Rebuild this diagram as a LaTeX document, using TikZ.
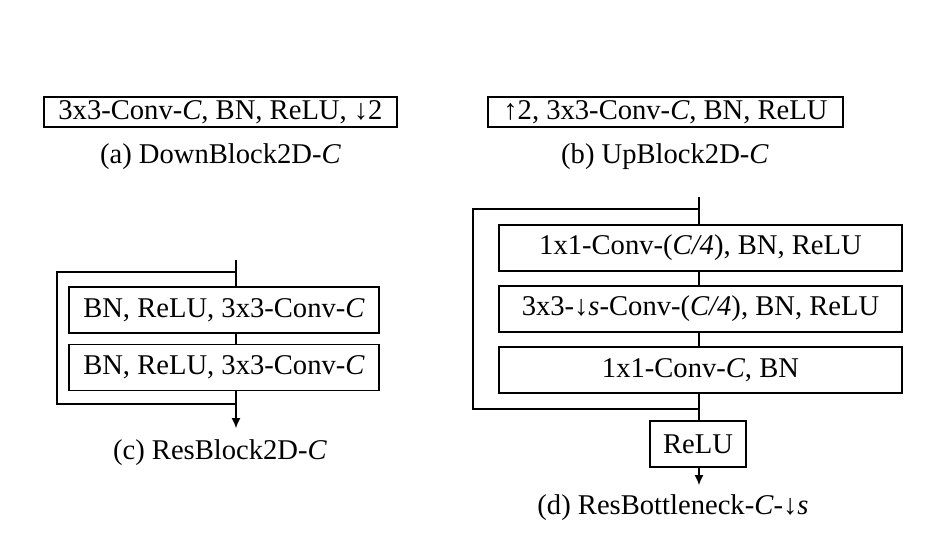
\documentclass[tikz,border=0pt]{standalone}
\usepackage{fontspec}
\setmainfont{Liberation Serif}
\usetikzlibrary{positioning,arrows.meta}
\tikzset{
  block/.style={draw, line width=0.6pt, inner sep=0pt, minimum height=23pt},
  caption/.style={inner sep=0pt},
  wire/.style={line width=0.6pt},
  flow/.style={line width=0.6pt, -{Latex[length=5pt,width=4.5pt]}}
}

\begin{document}
\begin{tikzpicture}[x=0.5pt, y=-0.5pt, font=\fontsize{14.3}{16}\selectfont]
    \useasboundingbox (0,0) rectangle (943,554);

    \node [block, minimum width=176.5pt, minimum height=15pt] (down) at (220.5,112) {3x3-Conv-\textit{C}, BN, ReLU, ↓2};
    \node [caption] (capa) at (220.5,157) {(a) DownBlock2D-\textit{C}};
    \node [block, minimum width=177.5pt, minimum height=15pt] (up) at (665.5,112) {↑2, 3x3-Conv-\textit{C}, BN, ReLU};
    \node [caption] (capb) at (665,157) {(b) UpBlock2D-\textit{C}};

    \coordinate (cin) at (236,260);
    \coordinate (csplit) at (236,272);
    \node [block, minimum width=155pt] (res1) at (224,310) {BN, ReLU, 3x3-Conv-\textit{C}};
    \node [block, minimum width=155pt] (res2) at (224,367.5) {BN, ReLU, 3x3-Conv-\textit{C}};
    \coordinate (cjoin) at (236,404);
    \coordinate (cout) at (236,428);
    \node [caption] (capc) at (220,453) {(c) ResBlock2D-\textit{C}};

    \draw [wire] (cin) -- (cin |- res1.north);
    \draw [wire] (res1.south -| cin) -- (res2.north -| cin);
    \draw [flow] (res2.south -| cin) -- (cout);
    \draw [wire] (csplit) -- ++(-179,0) |- (cjoin);

    \coordinate (din) at (699,197);
    \coordinate (dsplit) at (699,209);
    \node [block, minimum width=201.5pt] (bot1) at (700.5,248) {1x1-Conv-(\textit{C/4}), BN, ReLU};
    \node [block, minimum width=201.5pt] (bot2) at (700.5,309) {3x3-↓\textit{s}-Conv-(\textit{C/4}), BN, ReLU};
    \node [block, minimum width=201.5pt] (bot3) at (700.5,370) {1x1-Conv-\textit{C}, BN};
    \coordinate (djoin) at (699,409);
    \node [block, minimum width=48pt] (relu) at (698,444) {ReLU};
    \coordinate (dout) at (699,485);
    \node [caption] (capd) at (673,508) {(d) ResBottleneck-\textit{C}-↓\textit{s}};

    \draw [wire] (din) -- (din |- bot1.north);
    \draw [wire] (bot1.south -| din) -- (bot2.north -| din);
    \draw [wire] (bot2.south -| din) -- (bot3.north -| din);
    \draw [wire] (bot3.south -| din) -- (relu.north -| din);
    \draw [wire] (dsplit) -- ++(-226,0) |- (djoin);
    \draw [flow] (relu.south -| din) -- (dout);
\end{tikzpicture}
\end{document}
